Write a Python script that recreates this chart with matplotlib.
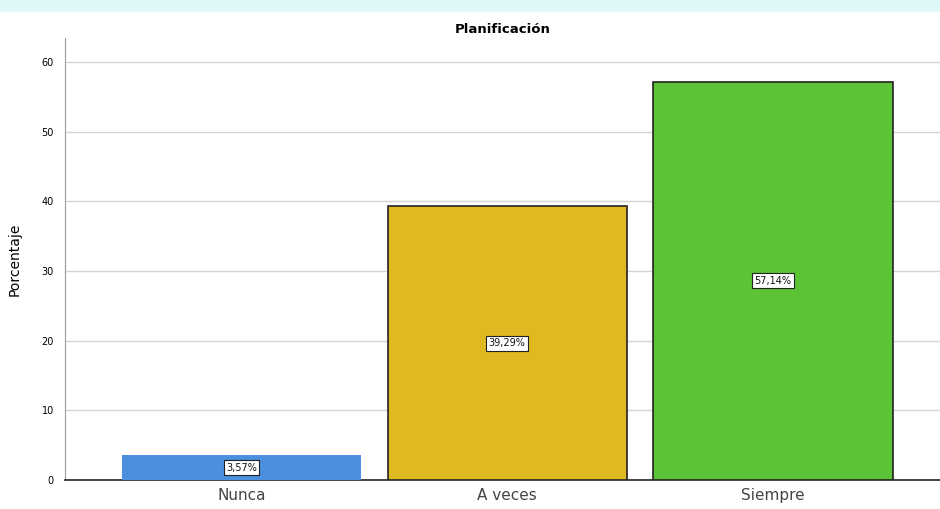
import matplotlib.pyplot as plt
import matplotlib.patches as mpatches

categories = ["Nunca", "A veces", "Siempre"]
percentages = [3.57, 39.29, 57.14]
bar_colors = ["#4B8FE1", "#E0B821", "#5CC236"]
edge_colors = ["none", "#222222", "#222222"]
yticks = [0, 10, 20, 30, 40, 50, 60]


def main():
    fig = plt.figure(figsize=(9.4, 5.09), dpi=100)
    # faint watermark strip at the top
    fig.patches.append(mpatches.Rectangle((0, 0.978), 1, 0.022, transform=fig.transFigure,
                                          color="#dff7f8", zorder=0))

    ax = fig.add_axes([0.069, 0.057, 0.931, 0.868])
    x = range(len(categories))
    bars = ax.bar(x, percentages, width=0.9, color=bar_colors,
                  edgecolor=edge_colors, linewidth=1.2, zorder=3)

    for b, v in zip(bars, percentages):
        txt = f"{v:.2f}%".replace(".", ",")
        ax.text(b.get_x() + b.get_width() / 2, v / 2, txt, ha="center", va="center",
                fontsize=7, color="#111111", zorder=4,
                bbox=dict(boxstyle="square,pad=0.25", fc="white", ec="#222222", lw=0.8))

    ax.set_xlim(-0.664, 2.628)
    ax.set_ylim(0, 63.4)
    ax.set_yticks(yticks)
    ax.set_yticklabels([str(t) for t in yticks], fontsize=7)
    ax.set_xticks(list(x))
    ax.set_xticklabels(categories, fontsize=11, color="#444444")
    ax.tick_params(axis="both", length=0, pad=8)
    ax.tick_params(axis="x", pad=6)
    ax.yaxis.grid(True, color="#d4d4d4", linewidth=1, zorder=0)

    for s in ["top", "right"]:
        ax.spines[s].set_visible(False)
    ax.spines["left"].set_color("#999999")
    ax.spines["bottom"].set_color("#222222")
    ax.spines["bottom"].set_linewidth(1.2)

    ax.set_ylabel("Porcentaje", fontsize=10, labelpad=14)
    ax.set_title("Planificación", fontsize=9.5, fontweight="bold", pad=4)

    fig.savefig("out.png", dpi=100)


if __name__ == "__main__":
    main()
